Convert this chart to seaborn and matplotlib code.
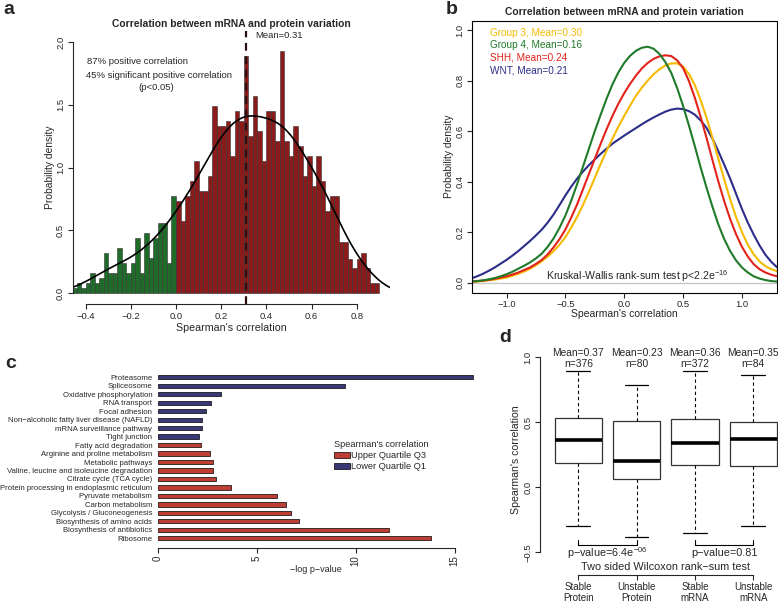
import numpy as np
import pandas as pd
import seaborn as sns
import matplotlib.pyplot as plt

# ---- panel a: histogram of Spearman correlations (bin width 0.02) ----
bin_edges = [round(v, 2) for v in np.linspace(-0.46, 0.90, 69)]
neg_density = [0.04, 0.08, 0.04, 0.08, 0.16, 0.08, 0.12, 0.32, 0.16, 0.16, 0.36, 0.24,
               0.16, 0.24, 0.44, 0.16, 0.48, 0.28, 0.44, 0.56, 0.56, 0.24, 0.77]
pos_density = [0.73, 0.57, 0.77, 0.89, 1.05, 0.81, 0.81, 0.93, 1.49, 1.33, 1.33, 1.37,
               1.09, 1.45, 1.37, 1.89, 1.25, 1.57, 1.29, 1.05, 1.45, 1.45, 1.21, 1.93,
               1.21, 1.09, 1.33, 1.17, 0.93, 1.09, 0.85, 1.09, 0.89, 0.65, 0.77, 0.77,
               0.41, 0.41, 0.27, 0.20, 0.27, 0.32, 0.20, 0.08, 0.08]
mean_rho = 0.31

# ---- panel b: density per subgroup (read every 0.05) ----
x_b = [-1.30, -1.25, -1.20, -1.15, -1.10, -1.05, -1.00, -0.95, -0.90, -0.85, -0.80, -0.75,
       -0.70, -0.65, -0.60, -0.55, -0.50, -0.45, -0.40, -0.35, -0.30, -0.25, -0.20, -0.15,
       -0.10, -0.05, 0.00, 0.05, 0.10, 0.15, 0.20, 0.25, 0.30, 0.35, 0.40, 0.45, 0.50, 0.55,
       0.60, 0.65, 0.70, 0.75, 0.80, 0.85, 0.90, 0.95, 1.00, 1.05, 1.10, 1.15, 1.20, 1.25, 1.30]
group3 = [0.003, 0.004, 0.006, 0.009, 0.012, 0.016, 0.020, 0.027, 0.035, 0.044, 0.055, 0.069,
          0.085, 0.103, 0.125, 0.150, 0.180, 0.218, 0.260, 0.308, 0.360, 0.415, 0.470, 0.522,
          0.570, 0.617, 0.660, 0.701, 0.740, 0.772, 0.800, 0.825, 0.845, 0.860, 0.868, 0.868,
          0.855, 0.826, 0.782, 0.722, 0.652, 0.573, 0.490, 0.408, 0.330, 0.260, 0.200, 0.150,
          0.112, 0.084, 0.065, 0.053, 0.045]
group4 = [0.004, 0.006, 0.009, 0.013, 0.018, 0.025, 0.033, 0.043, 0.055, 0.067, 0.080, 0.096,
          0.115, 0.142, 0.175, 0.217, 0.265, 0.325, 0.390, 0.460, 0.530, 0.600, 0.665, 0.728,
          0.785, 0.832, 0.870, 0.898, 0.918, 0.930, 0.934, 0.926, 0.905, 0.873, 0.830, 0.770,
          0.700, 0.622, 0.540, 0.455, 0.375, 0.300, 0.230, 0.172, 0.125, 0.088, 0.060, 0.040,
          0.025, 0.016, 0.010, 0.006, 0.004]
shh = [0.004, 0.006, 0.008, 0.011, 0.015, 0.020, 0.025, 0.032, 0.040, 0.050, 0.060, 0.074,
       0.090, 0.112, 0.140, 0.172, 0.210, 0.258, 0.310, 0.370, 0.430, 0.490, 0.550, 0.607,
       0.660, 0.708, 0.750, 0.787, 0.820, 0.848, 0.870, 0.886, 0.896, 0.900, 0.897, 0.880,
       0.850, 0.798, 0.732, 0.655, 0.572, 0.485, 0.400, 0.322, 0.252, 0.192, 0.142, 0.103,
       0.073, 0.053, 0.040, 0.031, 0.025]
wnt = [0.016, 0.025, 0.035, 0.047, 0.060, 0.075, 0.090, 0.107, 0.125, 0.145, 0.165, 0.187,
       0.210, 0.238, 0.270, 0.307, 0.345, 0.380, 0.412, 0.440, 0.465, 0.488, 0.510, 0.530,
       0.550, 0.566, 0.582, 0.597, 0.612, 0.627, 0.641, 0.654, 0.666, 0.677, 0.685, 0.689,
       0.687, 0.679, 0.665, 0.642, 0.612, 0.570, 0.520, 0.467, 0.412, 0.352, 0.292, 0.238,
       0.190, 0.147, 0.110, 0.082, 0.060]
subgroup_names = ["Group 3, Mean=0.30", "Group 4, Mean=0.16", "SHH, Mean=0.24", "WNT, Mean=0.21"]
subgroup_colors = ["#F5BA00", "#1F7A2A", "#E2231B", "#2C2C8A"]

# ---- panel c: KEGG enrichment ----
pathways = ["Proteasome", "Spliceosome", "Oxidative phosphorylation", "RNA transport",
            "Focal adhesion", "Non\u2212alcoholic fatty liver disease (NAFLD)",
            "mRNA surveillance pathway", "Tight junction", "Fatty acid degradation",
            "Arginine and proline metabolism", "Metabolic pathways",
            "Valine, leucine and isoleucine degradation", "Citrate cycle (TCA cycle)",
            "Protein processing in endoplasmic reticulum", "Pyruvate metabolism",
            "Carbon metabolism", "Glycolysis / Gluconeogenesis", "Biosynthesis of amino acids",
            "Biosynthesis of antibiotics", "Ribosome"]
neglogp = [15.93, 9.46, 3.18, 2.68, 2.42, 2.22, 2.22, 2.07, 2.17, 2.64, 2.78, 2.81, 2.93,
           3.70, 6.04, 6.46, 6.72, 7.12, 11.68, 13.80]
quartile = ["Lower Quartile Q1"] * 8 + ["Upper Quartile Q3"] * 12

# ---- panel d: boxplots (whisker low, Q1, median, Q3, whisker high) ----
box_groups = ["Stable\nProtein", "Unstable\nProtein", "Stable\nmRNA", "Unstable\nmRNA"]
whisk_low = [-0.30, -0.38, -0.35, -0.295]
q1 = [0.19, 0.06, 0.17, 0.165]
median = [0.365, 0.20, 0.34, 0.37]
q3 = [0.535, 0.51, 0.525, 0.50]
whisk_high = [0.895, 0.79, 0.895, 0.865]
box_means = [0.37, 0.23, 0.36, 0.35]
box_n = [376, 80, 372, 84]

sns.set_theme(style="white")
plt.rcParams["font.family"] = ["Liberation Sans", "DejaVu Sans"]
plt.rcParams["mathtext.default"] = "regular"
plt.rcParams["axes.linewidth"] = 0.8
plt.rcParams["xtick.major.size"] = 3.5
plt.rcParams["ytick.major.size"] = 3.5
plt.rcParams["xtick.major.width"] = 0.8
plt.rcParams["ytick.major.width"] = 0.8
plt.rcParams["xtick.bottom"] = True
plt.rcParams["ytick.left"] = True

W, H = 778, 603
fig = plt.figure(figsize=(W / 100, H / 100), dpi=100)


def rect(l, t, r, b):
    return [l / W, 1 - b / H, (r - l) / W, (b - t) / H]


def ftext(x, y, s, **kw):
    fig.text(x / W, 1 - y / H, s, **kw)


TICK = 6.8

# ================= a =================
ax_a = fig.add_axes(rect(72.7, 31, 390, 304))
edges = np.array(bin_edges)
centers = (edges[:-1] + edges[1:]) / 2
nneg = len(neg_density)
df_a = pd.DataFrame({"rho": centers, "dens": neg_density + pos_density})
sns.histplot(data=df_a.iloc[:nneg], x="rho", weights="dens", bins=bin_edges[:nneg + 1],
             color="#1E6B2A", edgecolor="#333333", linewidth=0.4, alpha=1, ax=ax_a)
sns.histplot(data=df_a.iloc[nneg:], x="rho", weights="dens", bins=bin_edges[nneg:],
             color="#8B1A1A", edgecolor="#333333", linewidth=0.4, alpha=1, ax=ax_a)
sns.kdeplot(data=df_a, x="rho", weights="dens", bw_method=0.28, gridsize=500,
            color="black", lw=1.2, ax=ax_a)
ax_a.axvline(mean_rho, color="#2a1010", ls=(0, (3.5, 2.5)), lw=1.6)
ax_a.set_xlim(-0.457, 0.947)
ax_a.set_ylim(-0.088, 2.088)
for s in ["top", "right"]:
    ax_a.spines[s].set_visible(False)
ax_a.spines["left"].set_bounds(0, 2)
ax_a.spines["bottom"].set_bounds(-0.4, 0.8)
ax_a.set_xticks([-0.4, -0.2, 0.0, 0.2, 0.4, 0.6, 0.8])
ax_a.set_xticklabels(["\u22120.4", "\u22120.2", "0.0", "0.2", "0.4", "0.6", "0.8"], fontsize=TICK)
ax_a.set_yticks([0, 0.5, 1.0, 1.5, 2.0])
ax_a.set_yticklabels(["0.0", "0.5", "1.0", "1.5", "2.0"], fontsize=TICK, rotation=90, va="center")
ax_a.tick_params(pad=2)
ax_a.set_xlabel("Spearman's correlation", fontsize=7.7, labelpad=2)
ax_a.set_ylabel("Probability density", fontsize=7.4, labelpad=1)
ax_a.set_title("Correlation between mRNA and protein variation", fontsize=7.4,
               fontweight="bold", pad=3)
ftext(255, 36, "Mean=0.31", fontsize=6.8, va="center")
ftext(87, 62, "87% positive correlation", fontsize=6.8, va="center")
ftext(86, 76, "45% significant positive correlation", fontsize=6.8, va="center")
ftext(156, 87, "(p<0.05)", fontsize=6.8, va="center", ha="center")

# ================= b =================
ax_b = fig.add_axes(rect(471.7, 20.7, 776.5, 292.7))
ax_b.axhline(0, color="#c8c8c8", lw=1)
for ys, col in zip([wnt, group3, shh, group4], [subgroup_colors[3], subgroup_colors[0],
                                                   subgroup_colors[2], subgroup_colors[1]]):
    sns.lineplot(x=x_b, y=ys, color=col, lw=1.5, ax=ax_b)
ax_b.set_xlim(-1.296, 1.294)
ax_b.set_ylim(-0.04, 1.037)
for s in ax_b.spines.values():
    s.set_color("black")
ax_b.set_xticks([-1.0, -0.5, 0.0, 0.5, 1.0])
ax_b.set_xticklabels(["\u22121.0", "\u22120.5", "0.0", "0.5", "1.0"], fontsize=TICK)
ax_b.set_yticks([0, 0.2, 0.4, 0.6, 0.8, 1.0])
ax_b.set_yticklabels(["0.0", "0.2", "0.4", "0.6", "0.8", "1.0"], fontsize=TICK,
                     rotation=90, va="center")
ax_b.tick_params(axis="x", pad=2)
ax_b.tick_params(axis="y", pad=1.5)
ax_b.set_xlabel("Spearman's correlation", fontsize=7.5, labelpad=0)
ax_b.set_ylabel("Probability density", fontsize=7.4, labelpad=1.5)
ax_b.set_title("Correlation between mRNA and protein variation", fontsize=7.4,
               fontweight="bold", pad=4)
for i, (nm, col) in enumerate(zip(subgroup_names, subgroup_colors)):
    ftext(490, 33 + i * 12.5, nm, fontsize=7.2, color=col, va="center")
ftext(637, 276, "Kruskal-Wallis rank-sum test p<2.2e$^{-16}$", fontsize=7.6,
      ha="center", va="center")

# ================= c =================
ax_c = fig.add_axes(rect(157.7, 370, 480, 547.7))
df_c = pd.DataFrame({"pathway": pathways, "score": neglogp, "quartile": quartile})
sns.barplot(data=df_c, x="score", y="pathway", hue="quartile",
            hue_order=["Upper Quartile Q3", "Lower Quartile Q1"],
            palette=["#D42A1E", "#2E2E7E"], dodge=False, width=0.5,
            edgecolor="black", linewidth=0.5, orient="h", ax=ax_c)
ax_c.set_ylim(20.11, -0.86)
ax_c.set_xlim(0, 16.28)
for s in ["top", "right", "left"]:
    ax_c.spines[s].set_visible(False)
ax_c.spines["bottom"].set_bounds(0, 15)
ax_c.set_xticks([0, 5, 10, 15])
ax_c.set_xticklabels(["0", "5", "10", "15"], rotation=90, fontsize=7)
ax_c.tick_params(axis="y", length=0, pad=4, labelsize=5.6)
ax_c.tick_params(axis="x", pad=2)
ax_c.set_xlabel("")
ax_c.set_ylabel("")
ax_c.text(0.49, -0.12, "\u2212log p\u2212value", transform=ax_c.transAxes, fontsize=6.5,
          ha="center", va="center")
sns.move_legend(ax_c, "upper left", bbox_to_anchor=(330 / W, 1 - 436 / H),
                bbox_transform=fig.transFigure, frameon=False, title="Spearman's correlation",
                fontsize=6.7, title_fontsize=6.6, handlelength=1.8, handleheight=0.7,
                handletextpad=0.1, labelspacing=0.25, borderaxespad=0, alignment="left")

# ================= d =================
ax_d = fig.add_axes(rect(540, 345, 778, 575))
rows = []
for g, a, b, c, d, e in zip(box_groups, whisk_low, q1, median, q3, whisk_high):
    for v in (a, b, c, d, e):
        rows.append({"group": g, "value": v})
df_d = pd.DataFrame(rows)
sns.boxplot(data=df_d, x="group", y="value", whis=(0, 100), width=0.81, color="white",
            linecolor="#333333", linewidth=0.9,
            medianprops=dict(color="black", lw=2.6),
            whiskerprops=dict(color="black", ls=(0, (3, 2.5)), lw=0.8),
            capprops=dict(color="black", lw=0.9), ax=ax_d)
ax_d.set_xlim(-0.657, 3.425)
ax_d.set_ylim(-0.675, 1.095)
for s in ["top", "right"]:
    ax_d.spines[s].set_visible(False)
ax_d.spines["left"].set_bounds(-0.5, 1.0)
ax_d.spines["bottom"].set_bounds(0, 3)
ax_d.set_yticks([-0.5, 0.0, 0.5, 1.0])
ax_d.set_yticklabels(["\u22120.5", "0.0", "0.5", "1.0"], fontsize=TICK, rotation=90, va="center")
ax_d.set_xticks([0, 1, 2, 3])
ax_d.set_xticklabels(box_groups, fontsize=7, linespacing=1.15)
ax_d.tick_params(axis="x", pad=1.5)
ax_d.tick_params(axis="y", pad=2)
ax_d.set_xlabel("")
ax_d.set_ylabel("Spearman's correlation", fontsize=7.6, labelpad=2)
for i, (m, n) in enumerate(zip(box_means, box_n)):
    ax_d.text(i, 1.033, f"Mean={m:.2f}", ha="center", va="center", fontsize=7.4)
    ax_d.text(i, 0.948, f"n={n}", ha="center", va="center", fontsize=7.4)
for i0, lab in [(0, "p\u2212value=6.4e$^{-06}$"), (2, "p\u2212value=0.81")]:
    ax_d.plot([i0, i0, i0 + 1, i0 + 1], [-0.405, -0.444, -0.444, -0.405], color="black", lw=0.8)
    ax_d.text(i0 + 0.5, -0.503, lab, ha="center", va="center", fontsize=7.8)
ax_d.text(1.5, -0.613, "Two sided Wilcoxon rank\u2212sum test", ha="center", va="center",
          fontsize=7.8)

# panel letters
for lab, x, y in [("a", 9, 9), ("b", 452, 9), ("c", 11, 363), ("d", 505, 338)]:
    ftext(x, y, lab, fontsize=14, fontweight="bold", ha="center", va="center")

fig.savefig("out.png", dpi=100)
